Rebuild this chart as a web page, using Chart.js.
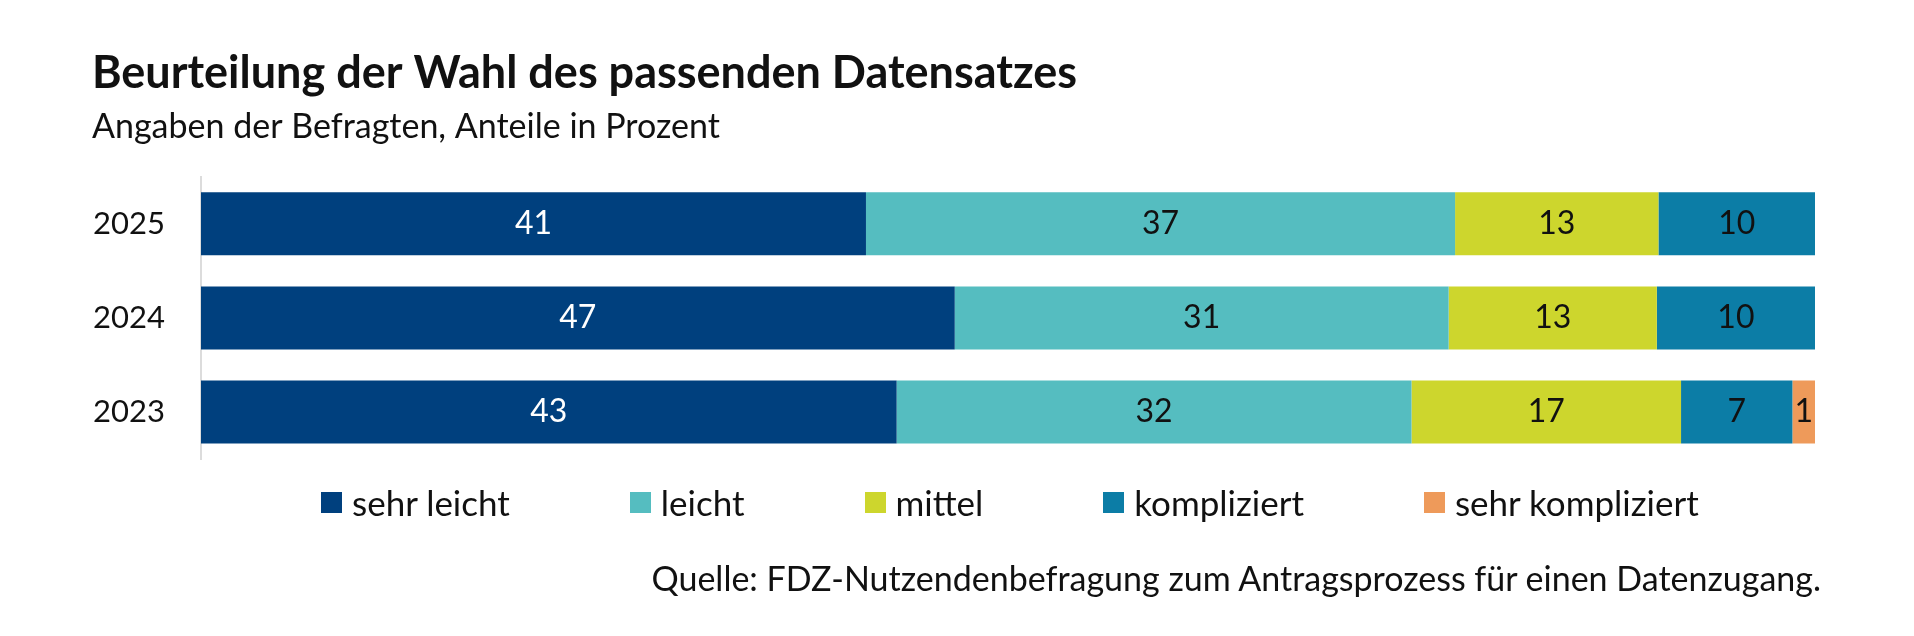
<!DOCTYPE html>
<html lang="de">
<head>
<meta charset="utf-8">
<title>Beurteilung der Wahl des passenden Datensatzes</title>
<script src="https://cdn.jsdelivr.net/npm/chart.js@4.4.1/dist/chart.umd.min.js"></script>
<style>
    html, body { margin: 0; padding: 0; background: #fff; }
    #rahmen { position: relative; width: 1914px; height: 636px; overflow: hidden; font-family: Lato, sans-serif; color: #111; }
    #grafik { position: absolute; left: 0; top: 0; }
    #legende { position: absolute; left: 321px; top: 485px; display: flex; align-items: center; gap: 120px; font-size: 35px; line-height: 35px; }
    .eintrag { display: flex; align-items: center; }
    .kasten { width: 21px; height: 21px; margin-right: 10px; }
    #quelle { position: absolute; right: 93px; top: 561px; font-size: 34px; line-height: 34px; }
</style>
</head>
<body>
<div id="rahmen">
    <canvas id="grafik" width="1914" height="636"></canvas>
    <div id="legende"></div>
    <div id="quelle">Quelle: FDZ-Nutzendenbefragung zum Antragsprozess für einen Datenzugang.</div>
</div>
<script>
const titel = 'Beurteilung der Wahl des passenden Datensatzes';
const untertitel = 'Angaben der Befragten, Anteile in Prozent';

const jahre = ['2025', '2024', '2023'];
const kategorien = ['sehr leicht', 'leicht', 'mittel', 'kompliziert', 'sehr kompliziert'];

// Anteile in Prozent je Jahr (2025, 2024, 2023)
const sehrLeicht = [41.2, 46.7, 43.1];
const leicht = [36.5, 30.6, 31.9];
const mittel = [12.6, 12.9, 16.7];
const kompliziert = [9.7, 9.8, 6.9];
const sehrKompliziert = [null, null, 1.4];

const farben = ['#00407e', '#55bdc0', '#cdd62d', '#0c7da6', '#ee9a5a'];
const textFarben = ['#ffffff', '#111111', '#111111', '#111111', '#111111'];

const reihen = [sehrLeicht, leicht, mittel, kompliziert, sehrKompliziert];

const schrift = 'Lato';

// Werte mittig in die Balken schreiben
const wertBeschriftung = {
    id: 'wertBeschriftung',
    afterDatasetsDraw(chart) {
        const ctx = chart.ctx;
        ctx.save();
        ctx.font = `32px ${schrift}`;
        ctx.textAlign = 'center';
        ctx.textBaseline = 'middle';
        chart.data.datasets.forEach((ds, i) => {
            const meta = chart.getDatasetMeta(i);
            meta.data.forEach((balken, j) => {
                const wert = ds.data[j];
                if (wert === null || wert === undefined) return;
                const { x, y, base } = balken.getProps(['x', 'y', 'base'], true);
                ctx.fillStyle = textFarben[i];
                ctx.fillText(Math.round(wert), (x + base) / 2, y);
            });
        });
        ctx.restore();
    }
};

const grafik = new Chart(document.getElementById('grafik'), {
    type: 'bar',
    data: {
        labels: jahre,
        datasets: kategorien.map((name, i) => ({
            label: name,
            data: reihen[i],
            backgroundColor: farben[i],
            borderWidth: 0,
            categoryPercentage: 1,
            barPercentage: 0.67
        }))
    },
    options: {
        indexAxis: 'y',
        responsive: false,
        animation: false,
        layout: {
            padding: { left: 92, right: 99, top: 0, bottom: 177 }
        },
        scales: {
            x: {
                stacked: true,
                min: 0,
                max: 100,
                display: false
            },
            y: {
                stacked: true,
                grid: { display: false, drawTicks: false },
                border: { display: true, color: '#dcdcdc', width: 2 },
                ticks: {
                    color: '#111',
                    padding: 36,
                    font: { family: schrift, size: 31 }
                },
                afterFit(skala) {
                    skala.width = 109;
                }
            }
        },
        plugins: {
            title: {
                display: true,
                text: titel,
                align: 'start',
                color: '#111',
                font: { family: schrift, size: 45, weight: 'bold' },
                padding: { top: 46, bottom: 0 }
            },
            subtitle: {
                display: true,
                text: untertitel,
                align: 'start',
                color: '#111',
                font: { family: schrift, size: 34 },
                padding: { top: 7, bottom: 29 }
            },
            legend: { display: false },
            tooltip: { enabled: false }
        }
    },
    plugins: [wertBeschriftung]
});

// Legende als HTML aus den Datensätzen
const legende = document.getElementById('legende');
grafik.data.datasets.forEach(ds => {
    const eintrag = document.createElement('div');
    eintrag.className = 'eintrag';
    const kasten = document.createElement('span');
    kasten.className = 'kasten';
    kasten.style.background = ds.backgroundColor;
    const text = document.createElement('span');
    text.textContent = ds.label;
    eintrag.appendChild(kasten);
    eintrag.appendChild(text);
    legende.appendChild(eintrag);
});
</script>
</body>
</html>
